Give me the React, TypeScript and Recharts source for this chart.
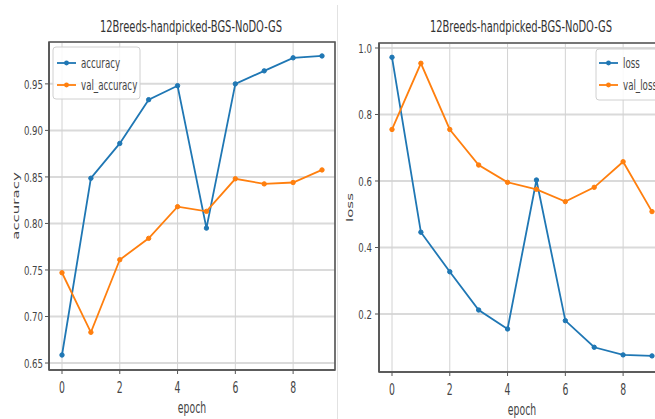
import React from 'react';
import { LineChart, Line, XAxis, YAxis, CartesianGrid, ReferenceArea } from 'recharts';

const epochs = [0, 1, 2, 3, 4, 5, 6, 7, 8, 9];
const accuracy = [0.6586, 0.8486, 0.886, 0.933, 0.948, 0.795, 0.95, 0.964, 0.978, 0.98];
const valAccuracy = [0.747, 0.683, 0.761, 0.784, 0.818, 0.813, 0.848, 0.8425, 0.844, 0.8575];
const loss = [0.972, 0.446, 0.327, 0.212, 0.155, 0.603, 0.18, 0.1, 0.077, 0.074];
const valLoss = [0.755, 0.954, 0.755, 0.648, 0.596, 0.575, 0.538, 0.581, 0.658, 0.508];
const xTicks = [0, 2, 4, 6, 8];
const accTicks = [0.65, 0.7, 0.75, 0.8, 0.85, 0.9, 0.95];
const lossTicks = [0.2, 0.4, 0.6, 0.8, 1.0];
const chartTitle = '12Breeds-handpicked-BGS-NoDO-GS';

const accData = epochs.map((e, i) => ({ epoch: e, accuracy: accuracy[i], val_accuracy: valAccuracy[i] }));
const lossData = epochs.map((e, i) => ({ epoch: e, loss: loss[i], val_loss: valLoss[i] }));

const BLUE = '#1f77b4';
const ORANGE = '#ff7f0e';
const SPINE = '#555';
const TXT = '#444';
const FONT = 'DejaVu Sans, sans-serif';
const SX = 0.62;
const X_DOMAIN: [number, number] = [-0.45, 9.45];

const XTick = (props: any) => {
  const { x, y, payload } = props;
  return (
    <g transform={`translate(${x},${y}) scale(${SX},1)`}>
      <text x={0} y={0} dy="0.72em" textAnchor="middle" fontSize={15} fill={TXT} fontFamily={FONT}>
        {String(payload.value)}
      </text>
    </g>
  );
};

const makeYTick = (dec: number) => (props: any) => {
  const { x, y, payload } = props;
  return (
    <g transform={`translate(${x},${y}) scale(0.66,1)`}>
      <text x={0} y={0} dy="0.36em" textAnchor="end" fontSize={13} fill={TXT} fontFamily={FONT}>
        {Number(payload.value).toFixed(dec)}
      </text>
    </g>
  );
};

const XLabel = (props: any) => {
  const vb = props.viewBox || { x: 0, y: 0, width: 0, height: 0 };
  const cx = vb.x + vb.width / 2;
  const by = vb.y + 43;
  return (
    <g transform={`translate(${cx},${by}) scale(${SX},1)`}>
      <text x={0} y={0} textAnchor="middle" fontSize={15} fill={TXT} fontFamily={FONT}>
        epoch
      </text>
    </g>
  );
};

const makeYLabel = (text: string, dx: number) => (props: any) => {
  const vb = props.viewBox || { x: 0, y: 0, width: 0, height: 0 };
  const cx = vb.x + dx;
  const cy = vb.y + vb.height / 2;
  return (
    <g transform={`translate(${cx},${cy}) scale(${SX},1) rotate(-90)`}>
      <text x={0} y={0} dy="0.35em" textAnchor="middle" fontSize={15} fill={TXT} fontFamily={FONT}>
        {text}
      </text>
    </g>
  );
};

const LegendEntry = ({ x, y, color, label }: { x: number; y: number; color: string; label: string }) => (
  <g>
    <line x1={x} y1={y} x2={x + 19} y2={y} stroke={color} strokeWidth={1.8} />
    <circle cx={x + 9.5} cy={y} r={2.4} fill={color} />
    <g transform={`translate(${x + 24},${y + 5}) scale(${SX},1)`}>
      <text x={0} y={0} fontSize={14} fill={TXT} fontFamily={FONT}>
        {label}
      </text>
    </g>
  </g>
);

const Title = ({ cx }: { cx: number }) => (
  <g transform={`translate(${cx},32) scale(${SX},1)`}>
    <text x={0} y={0} textAnchor="middle" fontSize={16} fill="#333" fontFamily={FONT}>
      {chartTitle}
    </text>
  </g>
);

export default function App() {
  return (
    <div style={{ position: 'absolute', left: 0, top: 0, width: 655, height: 419, overflow: 'hidden', background: '#fff' }}>
      <div style={{ position: 'absolute', left: 0, top: 0 }}>
        <LineChart width={340} height={419} data={accData} margin={{ top: 42, right: 5, bottom: 0, left: 0 }}>
          <CartesianGrid horizontal vertical={false} stroke="#dadada" strokeWidth={2} />
          <CartesianGrid horizontal={false} vertical stroke="#d2d2d2" strokeWidth={1} />
          <XAxis
            dataKey="epoch"
            type="number"
            domain={X_DOMAIN}
            ticks={xTicks}
            allowDataOverflow
            height={49}
            tickSize={4}
            tickMargin={8}
            axisLine={{ stroke: SPINE, strokeWidth: 1.6 }}
            tickLine={{ stroke: SPINE }}
            tick={<XTick />}
            label={{ value: 'epoch', content: (p: any) => <XLabel {...p} /> }}
          />
          <YAxis
            type="number"
            domain={[0.6425, 0.995]}
            ticks={accTicks}
            allowDataOverflow
            width={49}
            tickSize={4}
            tickMargin={2}
            axisLine={{ stroke: SPINE, strokeWidth: 1.6 }}
            tickLine={{ stroke: SPINE }}
            tick={makeYTick(2)}
            label={{ value: 'accuracy', content: makeYLabel('accuracy', 16) }}
          />
          <ReferenceArea x1={X_DOMAIN[0]} x2={X_DOMAIN[1]} y1={0.6425} y2={0.995} fill="none" stroke={SPINE} strokeWidth={1.6} ifOverflow="visible" />
          <Line dataKey="accuracy" stroke={BLUE} strokeWidth={1.8} dot={{ r: 2.2, fill: BLUE, stroke: BLUE, strokeWidth: 1 }} isAnimationActive={false} />
          <Line dataKey="val_accuracy" stroke={ORANGE} strokeWidth={1.8} dot={{ r: 2.2, fill: ORANGE, stroke: ORANGE, strokeWidth: 1 }} isAnimationActive={false} />
        </LineChart>
      </div>
      <div style={{ position: 'absolute', left: 337, top: 0 }}>
        <LineChart width={340} height={419} data={lossData} margin={{ top: 43, right: 12, bottom: 0, left: 0 }}>
          <CartesianGrid horizontal vertical={false} stroke="#dadada" strokeWidth={2} />
          <CartesianGrid horizontal={false} vertical stroke="#d2d2d2" strokeWidth={1} />
          <XAxis
            dataKey="epoch"
            type="number"
            domain={X_DOMAIN}
            ticks={xTicks}
            allowDataOverflow
            height={47}
            tickSize={4}
            tickMargin={8}
            axisLine={{ stroke: SPINE, strokeWidth: 1.6 }}
            tickLine={{ stroke: SPINE }}
            tick={<XTick />}
            label={{ value: 'epoch', content: (p: any) => <XLabel {...p} /> }}
          />
          <YAxis
            type="number"
            domain={[0.0256, 1.015]}
            ticks={lossTicks}
            allowDataOverflow
            width={42}
            tickSize={4}
            tickMargin={3}
            axisLine={{ stroke: SPINE, strokeWidth: 1.6 }}
            tickLine={{ stroke: SPINE }}
            tick={makeYTick(1)}
            label={{ value: 'loss', content: makeYLabel('loss', 13) }}
          />
          <ReferenceArea x1={X_DOMAIN[0]} x2={X_DOMAIN[1]} y1={0.0256} y2={1.015} fill="none" stroke={SPINE} strokeWidth={1.6} ifOverflow="visible" />
          <Line dataKey="loss" stroke={BLUE} strokeWidth={1.8} dot={{ r: 2.2, fill: BLUE, stroke: BLUE, strokeWidth: 1 }} isAnimationActive={false} />
          <Line dataKey="val_loss" stroke={ORANGE} strokeWidth={1.8} dot={{ r: 2.2, fill: ORANGE, stroke: ORANGE, strokeWidth: 1 }} isAnimationActive={false} />
        </LineChart>
      </div>
      <svg width={655} height={419} style={{ position: 'absolute', left: 0, top: 0, pointerEvents: 'none' }}>
        <line x1={337.5} y1={5} x2={337.5} y2={419} stroke="#e2e2e2" strokeWidth={1} />
        <Title cx={191} />
        <Title cx={521} />
        <rect x={53} y={47} width={87} height={52} rx={3} fill="#fff" fillOpacity={0.85} stroke="#d0d0d0" />
        <LegendEntry x={57} y={63} color={BLUE} label="accuracy" />
        <LegendEntry x={57} y={85} color={ORANGE} label="val_accuracy" />
        <rect x={596} y={49} width={90} height={51} rx={3} fill="#fff" fillOpacity={0.85} stroke="#d0d0d0" />
        <LegendEntry x={599} y={63} color={BLUE} label="loss" />
        <LegendEntry x={599} y={85} color={ORANGE} label="val_loss" />
      </svg>
    </div>
  );
}
